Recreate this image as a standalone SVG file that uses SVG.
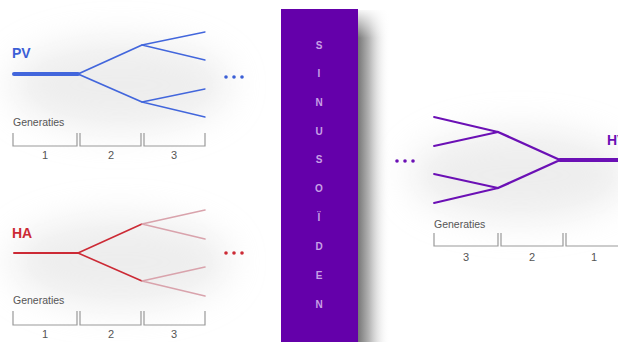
<svg xmlns="http://www.w3.org/2000/svg" width="618" height="342" viewBox="0 0 618 342">
<defs>
<filter id="blur" x="-50%" y="-50%" width="200%" height="200%"><feGaussianBlur stdDeviation="18"/></filter>
<linearGradient id="barShadow" x1="0" y1="0" x2="1" y2="0">
<stop offset="0" stop-color="#777"/>
<stop offset="0.35" stop-color="#b5b5b5"/>
<stop offset="1" stop-color="#fff" stop-opacity="0"/>
</linearGradient>
<linearGradient id="barShadowTop" x1="0" y1="0" x2="0" y2="1">
<stop offset="0" stop-color="#fff" stop-opacity="1"/>
<stop offset="1" stop-color="#fff" stop-opacity="0"/>
</linearGradient>
<style>
.lbl{font-family:"Liberation Sans",Arial,sans-serif;font-weight:bold;font-size:14px}
.gen{font-family:"Liberation Sans",Arial,sans-serif;font-size:10.5px;fill:#555}
.num{font-family:"Liberation Sans",Arial,sans-serif;font-size:11px;fill:#555;text-anchor:middle}
.br{fill:none;stroke:#999;stroke-width:1.2}
.bar{font-family:"Liberation Sans",Arial,sans-serif;font-weight:bold;font-size:10px;fill:#c8a0e6;text-anchor:middle}
.blue{stroke:#4266dc;fill:none;stroke-linecap:round}
.red{stroke:#cc2a35;fill:none;stroke-linecap:round}
.pink{stroke:#d9a3ac;fill:none;stroke-linecap:round}
.pur{stroke:#6b10b5;fill:none;stroke-linecap:round}
</style>
</defs>
<rect width="618" height="342" fill="#fff"/>
<g id="background-shadows" filter="url(#blur)" opacity="0.5">
<ellipse cx="120" cy="85" rx="110" ry="45" fill="#dcdcdc"/>
<ellipse cx="120" cy="262" rx="110" ry="45" fill="#dcdcdc"/>
<ellipse cx="520" cy="175" rx="110" ry="45" fill="#dcdcdc"/>
</g>

<g id="sinusoiden">
<rect x="358" y="10" width="32" height="332" fill="url(#barShadow)"/>
<rect x="355" y="8" width="40" height="30" fill="url(#barShadowTop)"/>
<rect x="281" y="9" width="77" height="333" fill="#6400aa"/>
<text class="bar" x="319" y="49">S</text>
<text class="bar" x="319" y="77">I</text>
<text class="bar" x="319" y="106">N</text>
<text class="bar" x="319" y="135">U</text>
<text class="bar" x="319" y="163">S</text>
<text class="bar" x="319" y="192">O</text>
<text class="bar" x="319" y="221">Ï</text>
<text class="bar" x="319" y="250">D</text>
<text class="bar" x="319" y="279">E</text>
<text class="bar" x="319" y="308">N</text>
</g>

<g id="pv-tree">
<text class="lbl" x="12" y="58" fill="#3b5fd6">PV</text>
<line class="blue" x1="14" y1="74" x2="78" y2="74" stroke-width="4"/>
<path class="blue" d="M78 74 L142 45 M78 74 L142 102" stroke-width="1.8"/>
<path class="blue" d="M142 45 L205 32 M142 45 L205 60 M142 102 L205 89 M142 102 L205 117" stroke-width="1.3"/>
<g fill="#3b5fd6"><circle cx="226" cy="77" r="1.8"/><circle cx="234" cy="77" r="1.8"/><circle cx="242" cy="77" r="1.8"/></g>
<text class="gen" x="13" y="126">Generaties</text>
<path class="br" d="M13 133 V146 H77 V133 M80 133 V146 H141 V133 M144 133 V146 H205 V133"/>
<text class="num" x="45" y="159">1</text>
<text class="num" x="111" y="159">2</text>
<text class="num" x="174" y="159">3</text>
</g>

<g id="ha-tree">
<text class="lbl" x="12" y="238" fill="#cc2a35">HA</text>
<line class="red" x1="14" y1="253" x2="78" y2="253" stroke-width="2"/>
<path class="red" d="M78 253 L142 224 M78 253 L142 281" stroke-width="1.6"/>
<path class="pink" d="M142 224 L205 210 M142 224 L205 239 M142 281 L205 267 M142 281 L205 296" stroke-width="1.6"/>
<g fill="#cc2a35"><circle cx="226" cy="253" r="1.8"/><circle cx="234" cy="253" r="1.8"/><circle cx="242" cy="253" r="1.8"/></g>
<text class="gen" x="13" y="304">Generaties</text>
<path class="br" d="M13 311 V325 H77 V311 M80 311 V325 H141 V311 M144 311 V325 H205 V311"/>
<text class="num" x="45" y="338">1</text>
<text class="num" x="111" y="338">2</text>
<text class="num" x="174" y="338">3</text>
</g>

<g id="hv-tree">
<text class="lbl" x="607" y="145" fill="#6b10b5">HV</text>
<line class="pur" x1="560" y1="160" x2="620" y2="160" stroke-width="4"/>
<path class="pur" d="M560 160 L498 132 M560 160 L498 188" stroke-width="2.4"/>
<path class="pur" d="M498 132 L434 117 M498 132 L434 146 M498 188 L434 174 M498 188 L434 203" stroke-width="1.8"/>
<g fill="#6b10b5"><circle cx="397" cy="161" r="1.8"/><circle cx="405" cy="161" r="1.8"/><circle cx="413" cy="161" r="1.8"/></g>
<text class="gen" x="434" y="228">Generaties</text>
<path class="br" d="M434 233 V246 H498 V233 M501 233 V246 H563 V233 M566 233 V246 H620"/>
<text class="num" x="466" y="261">3</text>
<text class="num" x="532" y="261">2</text>
<text class="num" x="594" y="261">1</text>
</g>
</svg>
